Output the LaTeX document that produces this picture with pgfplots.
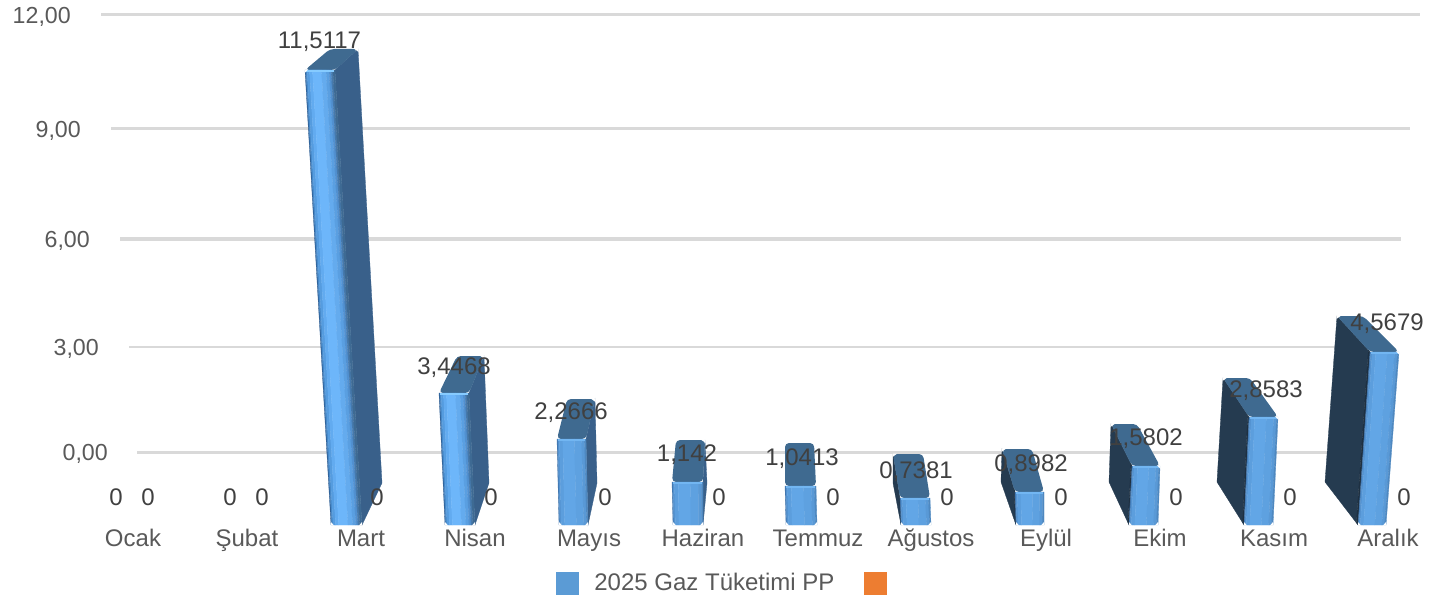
\documentclass[border=0pt]{standalone}
\usepackage{pgfplots}
\pgfplotsset{compat=1.18}
\usepackage{fontspec}
\setmainfont{Liberation Sans}
\definecolor{gridc}{HTML}{D9D9D9}
\definecolor{txt}{HTML}{595959}
\definecolor{lbl}{HTML}{404040}
\definecolor{topc}{HTML}{3F6A90}
\definecolor{lega}{HTML}{5B9BD5}
\definecolor{legb}{HTML}{ED7D31}
\definecolor{hiA}{HTML}{72B6F2}
\definecolor{hiB}{HTML}{86CBFF}
\definecolor{b1}{HTML}{2E5F95}\definecolor{b2}{HTML}{4688C8}\definecolor{b3}{HTML}{559CDF}
\definecolor{b4}{HTML}{62ABF0}\definecolor{b5}{HTML}{6DB6FA}\definecolor{b6}{HTML}{64ABEE}
\definecolor{b7}{HTML}{5A9FE1}\definecolor{b8}{HTML}{5190D0}\definecolor{b9}{HTML}{4679AC}\definecolor{b0}{HTML}{3E6A93}
\definecolor{a1}{HTML}{3F74AC}\definecolor{a2}{HTML}{5392D0}\definecolor{a3}{HTML}{5C9EDD}
\definecolor{a4}{HTML}{62A6E6}\definecolor{a5}{HTML}{5EA1E0}\definecolor{a6}{HTML}{5999D6}\definecolor{a7}{HTML}{4E88C0}
\definecolor{r2}{HTML}{39608A}
\definecolor{l2}{HTML}{253B50}\definecolor{l4}{HTML}{1E3041}
\def\frontB{0/.03/b1,.03/.07/b2,.07/.15/b3,.15/.25/b4,.25/.55/b5,.55/.7/b6,.7/.8/b7,.8/.87/b8,.87/.93/b9,.93/1/b0}
\def\frontA{0/.03/a1,.03/.08/a2,.08/.2/a3,.2/.6/a4,.6/.85/a5,.85/.95/a6,.95/1/a7}
\def\sideR{0/1/r2}
\def\sideL{0/.95/l2,.95/1/l4}
% a face is drawn in vertical strips, from its two lower and two upper corners
\newcommand\face[9]{%
 \foreach \sa/\sb/\sc in #1 {%
  \pgfmathsetmacro\xa{#2+(#4-#2)*\sa}\pgfmathsetmacro\ya{#3+(#5-#3)*\sa}%
  \pgfmathsetmacro\xb{#2+(#4-#2)*\sb}\pgfmathsetmacro\yb{#3+(#5-#3)*\sb}%
  \pgfmathsetmacro\xc{#8+(#6-#8)*\sb}\pgfmathsetmacro\yc{#9+(#7-#9)*\sb}%
  \pgfmathsetmacro\xd{#8+(#6-#8)*\sa}\pgfmathsetmacro\yd{#9+(#7-#9)*\sa}%
  \edef\tmp{\noexpand\addplot[fill=\sc,draw=\sc,line width=0.3pt,forget plot] coordinates {(\xa,\ya) (\xb,\yb) (\xc,\yc) (\xd,\yd)} -- cycle;}\tmp
 }}
\newcommand\hi[5]{\addplot[#1,line width=2pt,forget plot] coordinates {(#2,#3) (#4,#5)};}
\newcommand\topface[8]{\addplot[fill=topc,draw=none,rounded corners=4pt,forget plot] coordinates {(#1,#2) (#3,#4) (#5,#6) (#7,#8)} -- cycle;}
\newcommand\gridl[4]{\addplot[gridc,line width=#4pt,forget plot] coordinates {(#1,#3) (#2,#3)};}
% softened corners of the solid bars
\newcommand\cut[4]{\addplot[fill=white,draw=none,forget plot] coordinates {(#1,#2) (#3,#2) (#1,#4)} -- cycle;}
\newcommand\cuts[2]{\pgfmathsetmacro\ca{#1+3}\pgfmathsetmacro\cb{#2-3}%
 \edef\tmp{\noexpand\cut{#1.0}{525.5}{\ca}{522}\noexpand\cut{#2.0}{525.5}{\cb}{522}}\tmp}
\begin{document}
\begin{tikzpicture}
\begin{axis}[
 at={(0,0)},anchor=south west,
 width=1432pt,height=596pt,scale only axis,
 xmin=0,xmax=1432,ymin=0,ymax=596,y dir=reverse,clip=false,
 axis line style={draw=none},tick style={draw=none},
 font=\fontsize{24}{26}\selectfont,
 xtick={133,247,361,475,589,703,818,931,1046,1160,1274,1388},
 xticklabels={Ocak,Şubat,Mart,Nisan,Mayıs,Haziran,Temmuz,Ağustos,Eylül,Ekim,Kasım,Aralık},
 xticklabel style={text=txt,anchor=base,yshift=50pt,inner sep=0pt},
 ytick={15,129,239,347,452},
 yticklabels={12{,}00\hspace*{37pt},9{,}00\hspace*{27pt},6{,}00\hspace*{18pt},3{,}00\hspace*{9pt},0{,}00},
 yticklabel style={text=txt,anchor=east,xshift=108pt,yshift=-2pt,inner sep=0pt,font=\fontsize{23.2}{26}\selectfont},
 legend columns=-1,
 legend style={at={(axis cs:556,583)},anchor=west,draw=none,fill=none,inner sep=0pt,outer sep=0pt,text=txt,
   /tikz/every even column/.style={column sep=27pt},
   /tikz/every odd column/.style={column sep=14pt}},
 legend image code/.code={\fill[#1] (0pt,-11pt) rectangle (22pt,11pt);},
]
\addlegendimage{lega}
\addlegendentry{2025 Gaz Tüketimi PP}
\addlegendimage{legb}
\addlegendentry{}
% grid
\gridl{101}{1420}{15}{3}
\gridl{111}{1410}{129}{3}
\gridl{120}{1401}{239}{3.5}
\gridl{129}{1392}{347}{2.5}
\gridl{137}{1383}{452}{3}
% Mart
\face{\sideR}{362}{525}{382}{483}{358}{49}{335}{70}
\topface{305}{70}{335}{70}{358}{49}{330}{49}
\face{\frontB}{331}{525}{362}{525}{335}{70}{305}{70}
\hi{hiB}{306}{71}{334}{71}
\cut{358.5}{48.5}{354}{52}\cut{304.5}{69.5}{308}{73}\cuts{331}{362}
% Nisan
\face{\sideR}{475}{525}{489}{483}{484}{356}{469}{393}
\topface{439}{393}{469}{393}{484}{356}{457}{356}
\face{\frontB}{445}{525}{475}{525}{469}{393}{439}{393}
\hi{hiB}{440}{394}{468}{394}
\cut{484.5}{355.5}{480}{359}\cuts{445}{475}
% Mayis
\face{\sideR}{588}{525}{597}{483}{595}{399}{586}{439}
\topface{557}{439}{586}{439}{595}{399}{567}{399}
\face{\frontA}{559}{525}{588}{525}{586}{439}{557}{439}
\hi{hiA}{558}{440}{585}{440}
\cut{595.5}{398.5}{591}{402}\cuts{559}{588}
% Haziran
\face{\sideR}{703}{525}{707}{483}{705}{440}{703}{482}
\topface{672}{482}{703}{482}{705}{440}{676}{440}
\face{\frontA}{673}{525}{703}{525}{703}{482}{672}{482}
\hi{hiA}{673}{483}{702}{483}
\cut{705.5}{439.5}{701}{443}\cuts{673}{703}
% Temmuz
\topface{785}{486}{816}{486}{814}{443}{785}{443}
\face{\frontA}{786}{525}{817}{525}{816}{486}{785}{486}
\hi{hiA}{786}{487}{815}{487}
\cuts{786}{817}
% Agustos
\face{\sideL}{893}{483}{901}{525}{900}{498}{893}{454}
\topface{900}{498}{930}{498}{923}{454}{893}{454}
\face{\frontA}{901}{525}{931}{525}{930}{498}{900}{498}
\hi{hiA}{901}{499}{929}{499}
\cut{892.5}{453.5}{897}{457}\cuts{901}{931}
% Eylul
\face{\sideL}{1001}{482}{1016}{525}{1015}{492}{1002}{449}
\topface{1015}{492}{1044}{492}{1032}{449}{1002}{449}
\face{\frontA}{1016}{525}{1044}{525}{1044}{492}{1015}{492}
\hi{hiA}{1016}{493}{1043}{493}
\cut{1001.5}{448.5}{1006}{452}\cuts{1016}{1044}
% Ekim
\face{\sideL}{1109}{482}{1129}{525}{1132}{466}{1111}{424}
\topface{1132}{466}{1160}{466}{1137}{424}{1111}{424}
\face{\frontA}{1129}{525}{1158}{525}{1160}{466}{1132}{466}
\hi{hiA}{1133}{467}{1159}{467}
\cut{1110.5}{423.5}{1115}{427}\cut{1160.5}{465.5}{1157}{469}\cuts{1129}{1158}
% Kasim
\face{\sideL}{1217}{482}{1244}{525}{1249}{417}{1223}{378}
\topface{1249}{417}{1278}{417}{1250}{378}{1223}{378}
\face{\frontA}{1244}{525}{1273}{525}{1278}{417}{1249}{417}
\hi{hiA}{1250}{418}{1277}{418}
\cut{1222.5}{377.5}{1227}{381}\cut{1278.5}{416.5}{1275}{420}\cuts{1244}{1273}
% Aralik
\face{\sideL}{1325}{482}{1358}{525}{1370}{352}{1337}{316}
\topface{1370}{352}{1399}{352}{1363}{316}{1337}{316}
\face{\frontA}{1358}{525}{1386}{525}{1399}{352}{1370}{352}
\hi{hiA}{1371}{353}{1398}{353}
\cut{1336.5}{315.5}{1341}{319}\cut{1399.5}{351.5}{1396}{355}\cuts{1358}{1386}
% data labels
\addplot[only marks,mark=none,forget plot,point meta=explicit symbolic,nodes near coords,
  nodes near coords style={anchor=center,text=lbl,inner sep=0pt}] table[meta=v] {
x y v
319.5 42 11,5117
454 368 3,4468
571 413 2,2666
687 455 1,142
802 459 1,0413
916 472 0,7381
1031 465 0,8982
1146 439 1,5802
1266 391 2,8583
1387 324 4,5679
116 497 0
230 497 0
148 497 0
262 497 0
377 497 0
491 497 0
605 497 0
719 497 0
833 497 0
947 497 0
1061 497 0
1176 497 0
1290 497 0
1404 497 0
};
\end{axis}
\end{tikzpicture}
\end{document}
